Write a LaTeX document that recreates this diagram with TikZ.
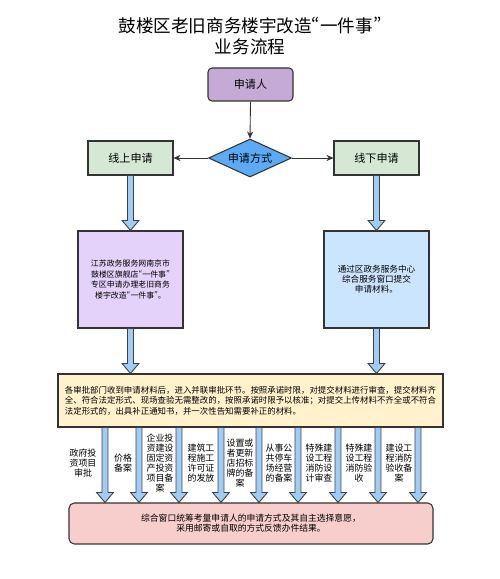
\documentclass[tikz,border=0pt]{standalone}
\usepackage{fontspec}
\newfontfamily\cjk{Noto Sans CJK SC}
\newfontfamily\cjkp[RawFeature=+pwid]{Noto Sans CJK SC}
\newcommand{\oq}{{\cjkp“}}
\newcommand{\cq}{{\cjkp”}}
\usetikzlibrary{shapes.geometric,arrows.meta,calc}
\definecolor{appPurple}{RGB}{196,170,212}
\definecolor{wayBlue}{RGB}{92,170,245}
\definecolor{modeGreen}{RGB}{213,232,212}
\definecolor{webPurple}{RGB}{229,210,250}
\definecolor{hallBlue}{RGB}{204,229,255}
\definecolor{reviewYellow}{RGB}{255,242,204}
\definecolor{resultPink}{RGB}{248,206,204}
\definecolor{arrowBlue}{RGB}{160,204,248}

\begin{document}
\begin{tikzpicture}[font=\cjk,
  stepbox/.style={rectangle,draw=black!80,line width=0.6pt,text centered,
                  font=\cjk\fontsize{6.3}{7.5}\selectfont},
  arr/.style={-{Stealth[length=4pt,width=3.5pt]},black!80,line width=0.5pt},
  fatarr/.style={draw=black!75,line width=0.5pt,fill=arrowBlue,
    to path={let \p1=(\tikztostart),\p2=(\tikztotarget) in
      (\x1-1.7pt,\y1) -- (\x1-1.7pt,\y2+5.7pt) -- (\x1-4.8pt,\y2+5.7pt)
      -- (\x1,\y2) -- (\x1+4.8pt,\y2+5.7pt) -- (\x1+1.7pt,\y2+5.7pt)
      -- (\x1+1.7pt,\y1) -- cycle}},
  lab/.style={align=center,inner sep=0pt,font=\cjk\fontsize{5.1}{5.7}\selectfont}]

  \useasboundingbox (0,0) rectangle (10,11.58);

  \node[align=center,font=\cjk\fontsize{10}{12.2}\selectfont] (title) at (5,10.865)
    {鼓楼区老旧商务楼宇改造\oq 一件事\cq\\业务流程};

  \node[stepbox,rounded corners=2.3pt,fill=appPurple,minimum width=1.7cm,minimum height=0.66cm]
    (app) at (5.01,9.89) {申请人};
  \node[stepbox,diamond,aspect=2.2,inner sep=0pt,fill=wayBlue,minimum width=1.66cm,minimum height=0.76cm]
    (way) at (5,8.42) {申请方式};
  \node[stepbox,fill=modeGreen,minimum width=1.7cm,minimum height=0.68cm]
    (online) at (2.61,8.42) {线上申请};
  \node[stepbox,fill=modeGreen,minimum width=1.7cm,minimum height=0.68cm]
    (offline) at (7.53,8.42) {线下申请};

  \node[stepbox,fill=webPurple,minimum width=2.1cm,minimum height=1.94cm,
        font=\cjk\fontsize{4.5}{6}\selectfont,align=center] (webbox) at (2.61,5.99)
    {江苏政务服务网南京市\\鼓楼区旗舰店\oq 一件事\cq\\专区申请办理老旧商务\\楼宇改造\oq 一件事\cq 。};
  \node[stepbox,fill=hallBlue,minimum width=2.1cm,minimum height=1.94cm,
        font=\cjk\fontsize{4.9}{5.7}\selectfont,align=center] (hallbox) at (7.53,5.99)
    {通过区政务服务中心\\综合服务窗口提交\\申请材料。};

  \node[stepbox,fill=reviewYellow,minimum width=7.7cm,minimum height=1.06cm,
        font=\cjk\fontsize{4.8}{6}\selectfont,align=left] (review) at (5.01,3.57)
    {各审批部门收到申请材料后，进入并联审批环节。按照承诺时限，对提交材料进行审查，提交材料齐\\
     全、符合法定形式、现场查验无需整改的，按照承诺时限予以核准；对提交上传材料不齐全或不符合\\
     法定形式的，出具补正通知书，并一次性告知需要补正的材料。};

  \node[stepbox,rounded corners=3pt,fill=resultPink,minimum width=7.28cm,minimum height=0.82cm,
        font=\cjk\fontsize{5}{5.7}\selectfont,align=center] (result) at (5.02,1.11)
    {综合窗口统筹考量申请人的申请方式及其自主选择意愿，\\采用邮寄或自取的方式反馈办件结果。};

  \draw[arr] (app.south) -- (way.north);
  \draw[arr] (way.west) -- (online.east);
  \draw[arr] (way.east) -- (offline.west);

  \draw[fatarr] (online.south) to (webbox.north);
  \draw[fatarr] (offline.south) to (hallbox.north);
  \draw[fatarr] (webbox.south) to (review.north -| webbox.south);
  \draw[fatarr] (hallbox.south) to (review.north -| hallbox.south);

  % one arrow per approval item
  \foreach \xa in {2.10,2.78,3.58,4.42,5.18,5.96,6.76,7.56,8.36}
    \draw[fatarr] (review.south -| \xa,0) to (result.north -| \xa,0);

  \foreach \xl/\txt [count=\i] in {1.66/{政府投\\资项目\\审批},2.46/{价格\\备案},
      3.20/{企业投\\资建设\\固定资\\产投资\\项目备\\案},4.02/{建筑工\\程施工\\许可证\\的发放},
      4.80/{设置或\\者更新\\店招标\\牌的备\\案},5.58/{从事公\\共停车\\场经营\\的备案},
      6.38/{特殊建\\设工程\\消防设\\计审查},7.18/{特殊建\\设工程\\消防验\\收},
      7.98/{建设工\\程消防\\验收备\\案}}
    \node[lab] (item\i) at (\xl,2.32) {\txt};
\end{tikzpicture}
\end{document}
